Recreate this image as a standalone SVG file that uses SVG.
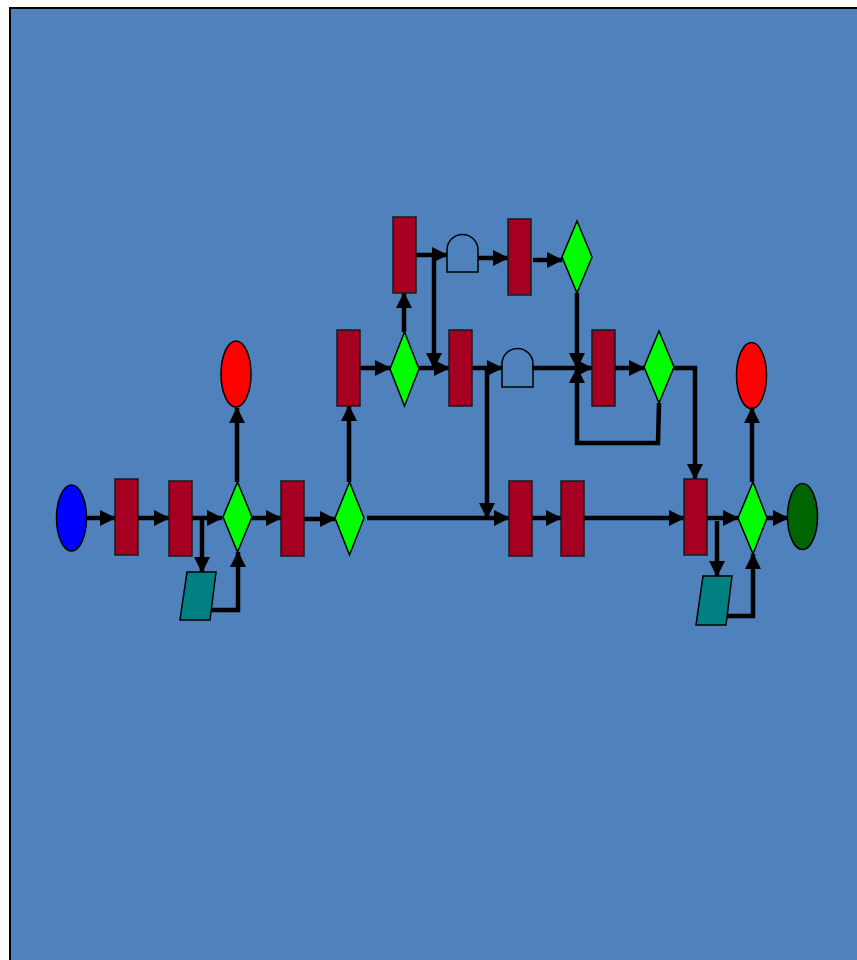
<svg xmlns="http://www.w3.org/2000/svg" width="857" height="960" viewBox="0 0 857 960">
<defs>
<marker id="ah" markerUnits="userSpaceOnUse" markerWidth="16" markerHeight="16" viewBox="0 0 16 16" refX="15" refY="8" orient="auto">
<path d="M0,0 L16,8 L0,16 Z" fill="#000"/>
</marker>
<style>
.bg{fill:#4F81BD;stroke:#000;stroke-width:2}
.task{fill:#A50021;stroke:#1a1a1a;stroke-width:1.5}
.dec{fill:#00FF00;stroke:#000;stroke-width:1.5}
.io{fill:#008080;stroke:#000;stroke-width:1.5}
.and{fill:none;stroke:#000;stroke-width:1.5}
.end{fill:#FF0000;stroke:#000;stroke-width:1.5}
.c{fill:none;stroke:#000;stroke-width:4.5}
.c.a{marker-end:url(#ah)}
</style>
</defs>
<rect class="bg" x="10" y="8" width="860" height="970"/>

<g id="connectors">
<line class="c a" x1="87" y1="518" x2="115" y2="518"/>
<line class="c a" x1="138" y1="518" x2="169" y2="518"/>
<line class="c a" x1="192" y1="518" x2="222" y2="518"/>
<polyline class="c a" points="202,518 202,572"/>
<polyline class="c a" points="210,610 238,610 238,552"/>
<line class="c a" x1="237" y1="482" x2="237" y2="408"/>
<line class="c a" x1="252" y1="518" x2="281" y2="518"/>
<line class="c a" x1="304" y1="519" x2="335" y2="519"/>
<line class="c a" x1="349" y1="482" x2="349" y2="406"/>
<line class="c a" x1="360" y1="368" x2="390" y2="368"/>
<line class="c a" x1="404" y1="332" x2="404" y2="293"/>
<line class="c a" x1="416" y1="255" x2="447" y2="255"/>
<polyline class="c a" points="434,255 434,368"/>
<line class="c a" x1="419" y1="368" x2="449" y2="368"/>
<line class="c a" x1="478" y1="258" x2="508" y2="258"/>
<line class="c a" x1="533" y1="260" x2="562" y2="260"/>
<line class="c a" x1="472" y1="368" x2="502" y2="368"/>
<polyline class="c a" points="487,368 487,518"/>
<line class="c a" x1="532" y1="368" x2="592" y2="368"/>
<polyline class="c a" points="577,293 577,368"/>
<polyline class="c a" points="659,403 658,443 577,443 577,368"/>
<line class="c a" x1="615" y1="368" x2="644" y2="368"/>
<polyline class="c a" points="674,368 695,368 695,479"/>
<line class="c a" x1="367" y1="518" x2="509" y2="518"/>
<line class="c a" x1="532" y1="518" x2="561" y2="518"/>
<line class="c a" x1="584" y1="518" x2="684" y2="518"/>
<line class="c a" x1="707" y1="518" x2="738" y2="518"/>
<polyline class="c a" points="717,521 717,576"/>
<polyline class="c a" points="725,616 753,616 753,554"/>
<line class="c a" x1="752" y1="482" x2="752" y2="408"/>
<line class="c a" x1="767" y1="518" x2="788" y2="518"/>
</g>

<g id="start"><ellipse cx="71.5" cy="518" rx="15" ry="33" fill="#0000FF" stroke="#000" stroke-width="1.5"/></g>
<g id="t1"><rect class="task" x="115" y="479" width="23" height="76"/></g>
<g id="t2"><rect class="task" x="169" y="481" width="23" height="75"/></g>
<g id="d1"><polygon class="dec" points="237.5,482 252,517 237.5,552 223,517"/></g>
<g id="io1"><polygon class="io" points="187,572 216,572 210,620 180,620"/></g>
<g id="e1"><ellipse class="end" cx="236" cy="374" rx="15" ry="33"/></g>
<g id="t3"><rect class="task" x="281" y="481" width="23" height="75"/></g>
<g id="d2"><polygon class="dec" points="349.5,482 364,518 349.5,555 335,518"/></g>
<g id="tC"><rect class="task" x="337" y="330" width="23" height="76"/></g>
<g id="dM"><polygon class="dec" points="404.5,332 419,369 404.5,406 390,369"/></g>
<g id="tA"><rect class="task" x="393" y="217" width="23" height="76"/></g>
<g id="and1"><path class="and" d="M447,272 V250 A15.5,15.5 0 0 1 478,250 V272 Z"/></g>
<g id="tB"><rect class="task" x="508" y="219" width="23" height="76"/></g>
<g id="dT"><polygon class="dec" points="577,221 592,257 577,293 562,257"/></g>
<g id="tD"><rect class="task" x="449" y="330" width="23" height="76"/></g>
<g id="and2"><path class="and" d="M502,387 V364 A15.5,15.5 0 0 1 533,364 V387 Z"/></g>
<g id="tE"><rect class="task" x="592" y="330" width="23" height="76"/></g>
<g id="dR"><polygon class="dec" points="659,331 674,367 659,403 644,367"/></g>
<g id="t4"><rect class="task" x="509" y="481" width="23" height="75"/></g>
<g id="t5"><rect class="task" x="561" y="481" width="23" height="75"/></g>
<g id="t6"><rect class="task" x="684" y="479" width="23" height="76"/></g>
<g id="io2"><polygon class="io" points="703,576 732,576 726,625 696,625"/></g>
<g id="d3"><polygon class="dec" points="753,482 767,518 753,554 738,518"/></g>
<g id="e2"><ellipse class="end" cx="751.5" cy="375.5" rx="15" ry="33"/></g>
<g id="finish"><ellipse cx="802.5" cy="516.5" rx="15" ry="33" fill="#006400" stroke="#000" stroke-width="1.5"/></g>
</svg>
